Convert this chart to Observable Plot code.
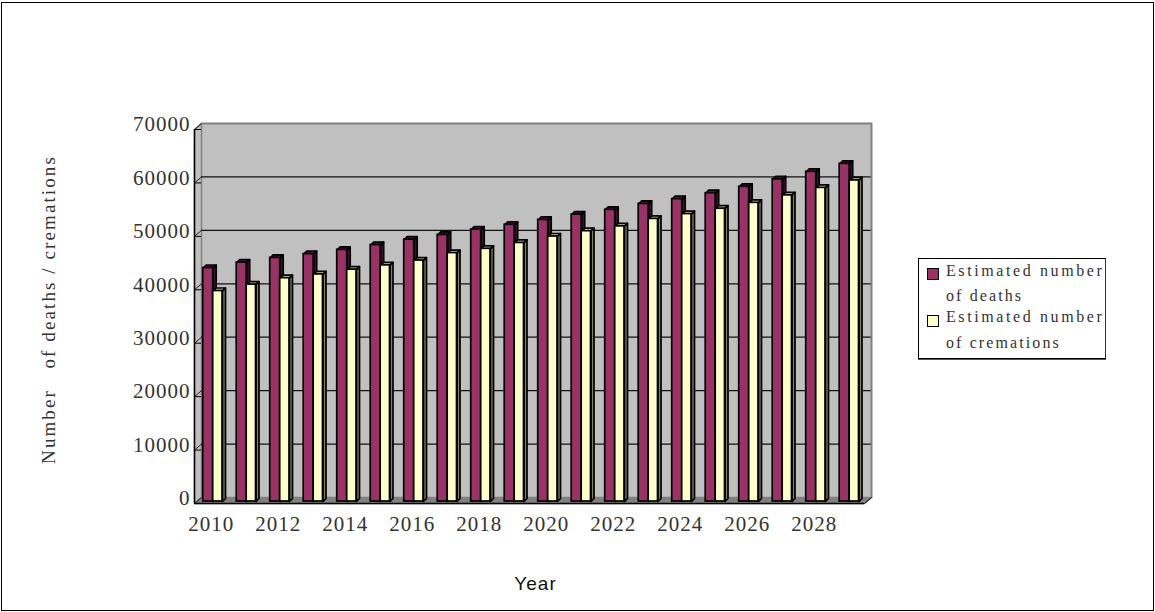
<!DOCTYPE html>
<html><head><meta charset="utf-8">
<script src="https://cdn.jsdelivr.net/npm/d3@7"></script>
<script src="https://cdn.jsdelivr.net/npm/@observablehq/plot@0.6"></script>
<style>
html,body{margin:0;padding:0;background:#fff}
#wrap{position:relative;width:1155px;height:612px;overflow:hidden}
#border{position:absolute;left:1px;top:2px;width:1151px;height:607px;border:1px solid #000}
#legend{position:absolute;left:918px;top:258px;width:186px;height:99px;border:1px solid #000;border-right-color:#333;box-shadow:0 1px 0 #555;font:16px "Liberation Serif",serif;letter-spacing:2.1px;color:#333;background:#fff;box-sizing:content-box}
#legend .row{position:absolute;left:27px;line-height:24px;white-space:pre}
#legend .wide{letter-spacing:2.6px}
#legend .sw{position:absolute;left:8px;width:10px;height:10px;border:1.5px solid #000}
svg{position:absolute;left:0;top:0}
</style></head><body><div id="wrap"><div id="border"></div></div>
<script>
const years = d3.range(2010, 2030);
const deaths = [43700,44700,45600,46300,47100,48000,49000,49900,50900,51800,52700,53700,54600,55700,56600,57700,58900,60300,61700,63200];
const cremations = [39400,40600,41800,42500,43400,44200,45100,46500,47300,48400,49600,50600,51500,52900,53800,54800,55900,57300,58700,60100];
const yTicks = [0,10000,20000,30000,40000,50000,60000,70000];
const xTicks = years.filter(y => y % 2 === 0);
const colors = {deaths:{front:"#993366",side:"#4a1030",top:"#5c1a3e"},cremations:{front:"#ffffcc",side:"#808060",top:"#cccc99"}};
const x0 = 2009.5, x1 = 2029.5, yMax = 70000;
// one scale-pixel expressed in data units
const ux = 1/33.5, uy = yMax/374;
const wallX = 7*ux, wallY = 6*uy, barX = 3*ux, barY = 3*uy;

function poly(id, pts){ return pts.map(([x,y]) => ({id,x,y})); }
function bars(vals, l, r){
  const top=[], side=[], front=[];
  years.forEach((yr,i)=>{
    const v=vals[i], a=yr+l, b=yr+r;
    front.push({x1:a,x2:b,y:v});
    top.push(...poly(yr,[[a,v],[a+barX,v+barY],[b+barX,v+barY],[b,v]]));
    side.push(...poly(yr,[[b,0],[b+barX,barY],[b+barX,v+barY],[b,v]]));
  });
  return {top,side,front};
}
const D = bars(deaths,-0.24,0.058), C = bars(cremations,0.058,0.336);
const barMarks = (B,c) => {
  const o = {stroke:"#000",strokeWidth:1.7,dy:-2,dx:0};
  return [
    Plot.line(B.top,{x:"x",y:"y",z:"id",fill:c.top,curve:"linear-closed",...o}),
    Plot.line(B.side,{x:"x",y:"y",z:"id",fill:c.side,curve:"linear-closed",...o}),
    Plot.rectY(B.front,{x1:"x1",x2:"x2",y1:0,y2:"y",fill:c.front,...o})
  ];
};
const floor = poly(0,[[x0,0],[x0+wallX,wallY],[x1+wallX,wallY],[x1,0]]);
const leftWall = poly(0,[[x0,0],[x0+wallX,wallY],[x0+wallX,yMax+wallY],[x0,yMax]]);
const chart = Plot.plot({
  width:1155,height:612,marginLeft:194,marginRight:291,marginTop:129,marginBottom:109,
  style:{background:"transparent",overflow:"visible"},
  x:{type:"linear",domain:[x0,x1],range:[194,864]},
  y:{domain:[0,yMax],range:[503,129]},
  marks:[
    Plot.rect([0],{x1:x0+wallX,x2:x1+wallX,y1:wallY,y2:yMax+wallY,fill:"#c0c0c0"}),
    Plot.line(leftWall,{x:"x",y:"y",z:"id",fill:"#c0c0c0",curve:"linear-closed",stroke:"#808080",strokeWidth:1.5}),
    Plot.ruleY(yTicks.filter(v=>v>0&&v<yMax),{y:d=>d+wallY,x1:x0+wallX,x2:x1+wallX,stroke:"#111",strokeWidth:1.2}),
    Plot.line(floor,{x:"x",y:"y",z:"id",fill:"#808080",curve:"linear-closed",stroke:"#808080"}),
    Plot.line(poly(0,[[x0+wallX,yMax+wallY],[x1+wallX,yMax+wallY],[x1+wallX,wallY]]),{x:"x",y:"y",stroke:"#808080",strokeWidth:2}),
    Plot.link(yTicks,{x1:x0,y1:d=>d,x2:x0+wallX,y2:d=>d+wallY,stroke:"#222",strokeWidth:1}),
    ...barMarks(D,colors.deaths),
    ...barMarks(C,colors.cremations),
    Plot.ruleX([x0],{y1:0,y2:yMax,stroke:"#000",strokeWidth:1.5}),
    Plot.ruleY([0],{x1:x0,x2:x1,stroke:"#000",strokeWidth:1.5}),
    Plot.link([0],{x1:x1,y1:0,x2:x1+wallX,y2:wallY,stroke:"#000",strokeWidth:1}),
    Plot.ruleY(yTicks,{x1:x0,x2:x0+wallX,stroke:"#000",strokeWidth:1}),
    Plot.axisY({ticks:yTicks,tickSize:0,tickPadding:4,dy:-5,label:null,tickFormat:d=>String(d),fontSize:21,fontFamily:"Liberation Serif, serif",fill:"#333"}),
    Plot.axisX({ticks:xTicks,tickSize:0,tickPadding:13,label:null,tickFormat:d=>String(d),fontSize:21,fontFamily:"Liberation Serif, serif",fill:"#333"}),
    Plot.text(["Year"],{frameAnchor:"bottom",dx:6,dy:86,fontFamily:"Liberation Sans, sans-serif",fontSize:19,fill:"#111"}),
    Plot.text(["Number   of deaths / cremations"],{frameAnchor:"left",textAnchor:"middle",dx:-146,dy:-7,rotate:-90,fontFamily:"Liberation Serif, serif",fontSize:19,fill:"#333"})
  ]
});
d3.select(chart).selectAll("text").each(function(){
  const t = this.textContent;
  if (/^\d{5}$|^0$/.test(t)) this.style.letterSpacing = "1px";
  else if (/^\d{4}$/.test(t)) this.style.letterSpacing = "1px";
  else if (t === "Year") this.style.letterSpacing = "1px";
  else if (t.startsWith("Number")) this.style.letterSpacing = "2.1px";
});
document.getElementById("wrap").appendChild(chart);
const lg = document.createElement("div"); lg.id="legend";
const rows = [["Estimated number",0,"wide"],["of deaths",25,""],["Estimated number",46,"wide"],["of cremations",72,""]];
lg.innerHTML = rows.map(([t,y,c])=>`<div class="row ${c}" style="top:${y}px">${t}</div>`).join("")
 + `<div class="sw" style="top:9px;background:${colors.deaths.front}"></div><div class="sw" style="top:56px;background:${colors.cremations.front}"></div>`;
document.getElementById("wrap").appendChild(lg);
</script></body></html>
